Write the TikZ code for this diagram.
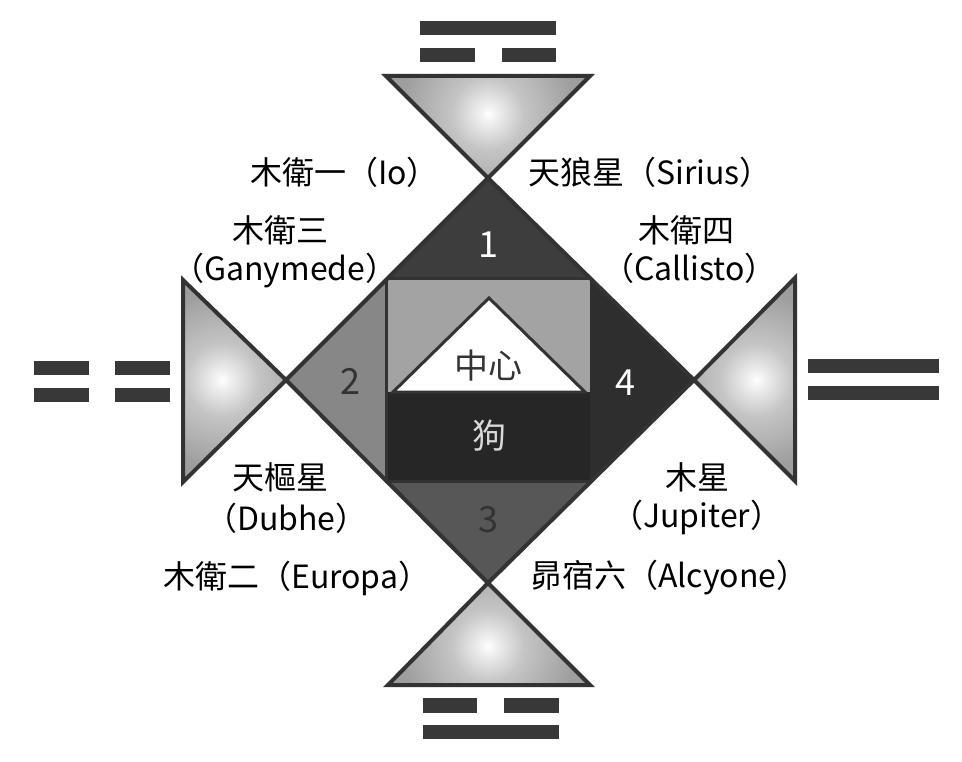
\documentclass[tikz,border=0pt]{standalone}
\usepackage{fontspec}
\setmainfont{Noto Sans CJK TC}
\definecolor{linec}{HTML}{333333}
\definecolor{barc}{HTML}{383838}
\definecolor{rOne}{HTML}{3D3D3D}
\definecolor{rTwo}{HTML}{878787}
\definecolor{rThree}{HTML}{575757}
\definecolor{rFour}{HTML}{2E2E2E}
\definecolor{rDog}{HTML}{262626}
\definecolor{rLight}{HTML}{A3A3A3}
\definecolor{triGray}{HTML}{9E9E9E}
\pgfdeclareradialshading{glow}{\pgfpointorigin}{color(0bp)=(white); color(2bp)=(white!85!triGray); color(9bp)=(white!40!triGray); color(22bp)=(triGray); color(50bp)=(triGray!92!black)}
\newcommand\glowtri[4]{%
  \fill[triGray] #1--#2--#3--cycle;
  \begin{scope}\clip #1--#2--#3--cycle;
    \shade[shading=glow] #4 circle (100pt);
  \end{scope}
  \draw[outtri] #1--#2--#3--cycle;}
\begin{document}
\begin{tikzpicture}[x=1pt,y=-1pt,
  bar/.style={fill=barc, draw=none},
  outtri/.style={draw=linec, line width=4pt, line join=miter},
  sep/.style={draw=linec, line width=3pt},
  lbl/.style={font=\fontsize{32}{36}\selectfont, text=black, inner sep=0pt, anchor=west},
  num/.style={font=\fontsize{36}{40}\selectfont, inner sep=0pt}]
\useasboundingbox[fill=white] (0,0) rectangle (962,762);
% key points
\coordinate (T) at (488,178);
\coordinate (L) at (286,380);
\coordinate (R) at (694,380);
\coordinate (B) at (488,583);
\coordinate (q1) at (386,279);
\coordinate (q2) at (590,279);
\coordinate (q3) at (590,481);
\coordinate (q4) at (386,481);
\coordinate (m1) at (386,392);
\coordinate (m2) at (590,392);
% outer triangles
\glowtri{(386,76)}{(590,76)}{(T)}{(488,114)}
\glowtri{(183,280)}{(183,482)}{(L)}{(222,380)}
\glowtri{(795,278)}{(795,481)}{(R)}{(756,380)}
\glowtri{(388,685)}{(590,685)}{(B)}{(488,646)}
% bars
\fill[bar] (420,21) rectangle (556,35);
\fill[bar] (420,48) rectangle (475,62);
\fill[bar] (502,48) rectangle (556,62);
\fill[bar] (34,361) rectangle (89,375);
\fill[bar] (115,361) rectangle (170,375);
\fill[bar] (34,388) rectangle (89,402);
\fill[bar] (115,388) rectangle (170,402);
\fill[bar] (808,359) rectangle (939,373);
\fill[bar] (808,386) rectangle (939,400);
\fill[bar] (423,698) rectangle (477,713);
\fill[bar] (504,698) rectangle (559,713);
\fill[bar] (423,725) rectangle (559,739);
% diamond regions
\fill[rFour] (T)--(R)--(B)--(L)--cycle;
\fill[rOne] (T)--(q2)--(q1)--cycle;
\fill[rTwo] (L)--(q1)--(q4)--cycle;
\fill[rThree] (B)--(q4)--(q3)--cycle;
\fill[rDog] (m1) rectangle (q3);
\fill[rLight] (q1) rectangle (m2);
\draw[sep] (q1)--(q2) (q1)--(q4)--(q3);
\draw[draw=linec, line width=3pt, fill=white, line join=miter] (489,298)--(585,392)--(393,392)--cycle;
\draw[outtri] (T)--(R)--(B)--(L)--cycle;
% numbers and inner text
\node[num, text=white] (n1) at (488,245) {1};
\node[num, text=linec] (n2) at (350,381) {2};
\node[num, text=linec] (n3) at (488,520) {3};
\node[num, text=white] (n4) at (625,383) {4};
\node[num, text=linec, font=\fontsize{34}{38}\selectfont] (ctr) at (488,366) {中心};
\node[num, text=white!85!black, font=\fontsize{34}{38}\selectfont] (dog) at (489,436) {狗};
% labels
\node[lbl] (io) at (250,172) {木衛一（Io）};
\node[lbl] (sirius) at (528,172) {天狼星（Sirius）};
\node[lbl] (gan1) at (232,230) {木衛三};
\node[lbl] (gan2) at (172,271) {（Ganymede）};
\node[lbl] (cal1) at (638,230) {木衛四};
\node[lbl] (cal2) at (602,268) {（Callisto）};
\node[lbl] (dub1) at (232,477) {天樞星};
\node[lbl] (dub2) at (205,518) {（Dubhe）};
\node[lbl] (eur) at (163,578) {木衛二（Europa）};
\node[lbl] (jup1) at (665,477) {木星};
\node[lbl] (jup2) at (611,517) {（Jupiter）};
\node[lbl] (alc) at (530,578) {昴宿六（Alcyone）};
\end{tikzpicture}
\end{document}
